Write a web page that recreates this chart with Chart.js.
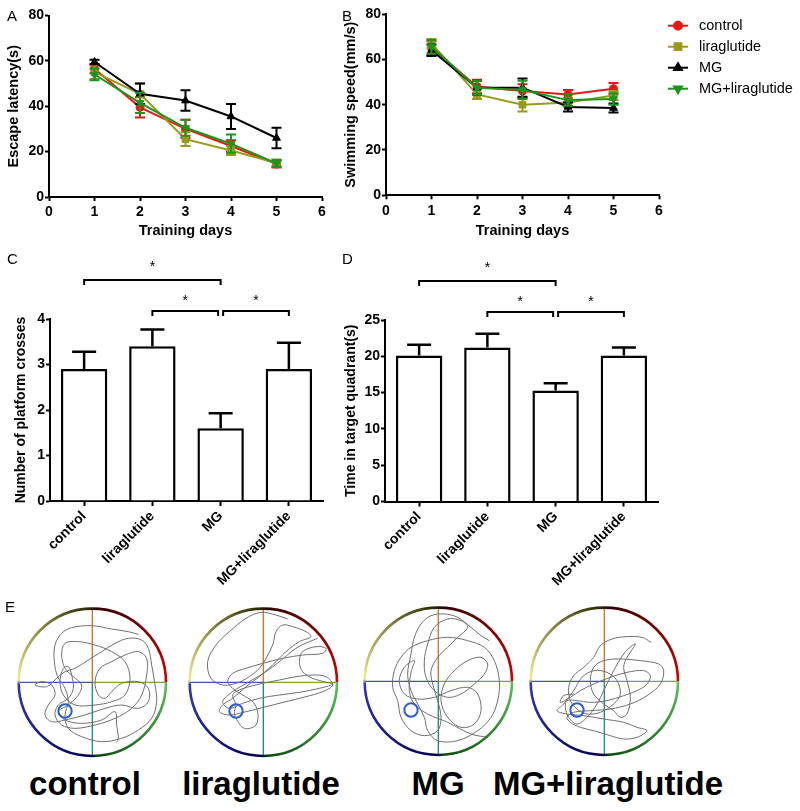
<!DOCTYPE html>
<html><head><meta charset="utf-8">
<script src="https://cdn.jsdelivr.net/npm/chart.js@4.4.1/dist/chart.umd.min.js"></script>
<style>
html,body{margin:0;padding:0;background:#fff;}
body{width:800px;height:811px;position:relative;overflow:hidden;font-family:"Liberation Sans",Arial,sans-serif;}
canvas{position:absolute;}
.lbl{position:absolute;font-size:15px;color:#000;line-height:1;}
.gl{position:absolute;font-weight:bold;font-size:33px;line-height:1;white-space:nowrap;transform:translateX(-50%);color:#000;}
</style></head><body>
<canvas id="cA" width="340" height="240" style="left:0;top:0"></canvas>
<canvas id="cB" width="460" height="240" style="left:340px;top:0"></canvas>
<canvas id="cC" width="340" height="355" style="left:0;top:240px"></canvas>
<canvas id="cD" width="460" height="355" style="left:340px;top:240px"></canvas>
<canvas id="e0" width="155" height="155" style="left:15px;top:605px"></canvas>
<canvas id="e1" width="155" height="155" style="left:186px;top:605px"></canvas>
<canvas id="e2" width="155" height="155" style="left:361px;top:604px"></canvas>
<canvas id="e3" width="155" height="155" style="left:527px;top:604px"></canvas>
<div class="lbl" style="left:7px;top:8px">A</div>
<div class="lbl" style="left:342px;top:8px">B</div>
<div class="lbl" style="left:7px;top:251px">C</div>
<div class="lbl" style="left:342px;top:251px">D</div>
<div class="lbl" style="left:5px;top:599px">E</div>
<div class="gl" style="left:85px;top:767px">control</div>
<div class="gl" style="left:261px;top:767px">liraglutide</div>
<div class="gl" style="left:438px;top:767px">MG</div>
<div class="gl" style="left:608px;top:767px">MG+liraglutide</div>
<script>
// ---------------- DATA ----------------
const days = [1, 2, 3, 4, 5];
const groups = ['control', 'liraglutide', 'MG', 'MG+liraglutide'];

const latencyControl    = [56.5, 39.5, 30.0, 22.5, 14.5];
const latencyControlErr = [2.0, 4.5, 4.0, 2.5, 1.5];
const latencyLira       = [55.0, 45.5, 25.5, 20.5, 15.0];
const latencyLiraErr    = [3.0, 4.5, 3.0, 2.0, 1.5];
const latencyMG         = [59.5, 45.5, 42.5, 35.5, 26.0];
const latencyMGErr      = [1.0, 4.5, 4.5, 5.5, 4.5];
const latencyMGL        = [54.0, 41.5, 30.5, 23.5, 14.8];
const latencyMGLErr     = [2.5, 4.5, 3.5, 4.0, 1.5];

const speedControl    = [65.0, 48.0, 46.0, 44.5, 47.0];
const speedControlErr = [3.0, 3.0, 3.0, 2.0, 2.5];
const speedLira       = [67.0, 44.5, 40.0, 41.0, 44.0];
const speedLiraErr    = [2.0, 2.0, 3.0, 2.0, 2.0];
const speedMG         = [64.0, 47.5, 47.5, 39.0, 38.5];
const speedMGErr      = [2.5, 3.0, 4.0, 2.0, 2.0];
const speedMGL        = [65.5, 47.5, 46.5, 42.0, 42.5];
const speedMGLErr     = [3.0, 3.0, 4.0, 2.5, 2.5];

const platformCrosses    = [2.9, 3.4, 1.6, 2.9];
const platformCrossesErr = [0.38, 0.37, 0.33, 0.58];
const targetTime         = [20.1, 21.2, 15.3, 20.1];
const targetTimeErr      = [1.5, 1.9, 1.0, 1.1];

const sigPairs  = [[0, 2], [1, 2], [2, 3]];
const sigLevels = [1, 0, 0];
const sigMarks  = ['*', '*', '*'];

// swim paths (arena image units, centre 232,232, radius 221)
const arenaCenter = [232, 232];
const arenaRadius = 221;
const platformPos = [150, 318];
const platformRadius = 20;
const pathControl = [[370,88],[340,80],[290,72],[230,62],[170,68],[140,85],[120,120],[118,170],[128,215],[150,250],[160,290],[150,330],[160,370],[200,395],[260,410],[320,400],[370,375],[410,340],[425,290],[420,240],[410,180],[400,130],[380,105],[340,100],[300,115],[260,140],[220,165],[180,190],[150,200],[125,220],[95,245],[60,240],[80,230],[110,240],[120,270],[100,300],[90,330],[110,350],[150,345],[210,330],[270,310],[320,300],[370,310],[400,290],[400,250],[370,230],[320,235],[290,260],[270,280],[250,270],[240,230],[255,190],[290,170],[330,150],[370,140],[395,160],[395,210],[380,270],[350,310],[300,340],[240,360],[180,370],[140,360],[120,330],[130,300],[160,280],[175,250],[170,210],[160,185],[145,190],[135,230],[145,270],[180,300],[240,300],[290,290],[330,270],[345,220],[330,170],[290,140],[240,120],[190,110],[150,115],[140,150],[150,190],[175,215],[200,240],[190,270],[160,300],[130,320],[150,345],[200,355],[260,345],[300,320],[305,360],[310,400],[305,412]];
const pathLira = [[305,42],[270,30],[225,22],[180,40],[130,80],[90,120],[65,170],[75,220],[110,240],[150,235],[190,215],[220,190],[240,160],[260,120],[270,80],[290,60],[320,65],[360,80],[375,95],[340,110],[300,140],[260,180],[220,215],[180,245],[140,280],[110,300],[100,320],[130,330],[180,320],[240,305],[300,290],[360,275],[410,260],[440,240],[420,215],[380,210],[330,215],[280,225],[230,235],[190,245],[160,255],[140,270],[150,300],[145,320],[150,340],[175,370],[210,360],[215,320],[200,290],[170,270],[140,250],[125,230],[140,205],[180,190],[230,175],[290,160],[350,150],[410,145],[420,130],[390,125],[350,140],[340,170],[350,200],[380,220],[415,230],[438,238],[400,250],[340,262],[280,270],[220,280],[170,295],[130,310],[110,290],[140,260],[190,230],[240,200],[280,170],[330,130],[370,110],[395,100]];
const pathMG = [[385,110],[360,95],[330,70],[290,40],[250,30],[210,35],[180,60],[160,100],[150,150],[140,210],[150,260],[170,300],[190,340],[200,380],[230,410],[290,410],[350,380],[390,340],[410,290],[415,230],[400,170],[370,130],[320,110],[260,100],[200,110],[150,130],[120,160],[100,200],[95,250],[110,290],[120,340],[150,380],[190,395],[230,380],[240,340],[230,290],[215,240],[210,200],[230,160],[260,130],[290,100],[320,70],[300,50],[260,45],[220,70],[200,120],[190,170],[195,220],[220,260],[260,280],[300,270],[340,240],[370,210],[380,180],[360,160],[320,170],[280,200],[250,240],[240,290],[260,340],[300,370],[340,360],[360,320],[350,270],[320,250],[270,260],[220,280],[170,285],[130,270],[115,230],[130,190],[160,170],[150,205],[145,260],[160,300],[200,330],[260,355],[330,390],[380,400]];
const pathMGL = [[372,115],[345,100],[300,98],[255,105],[220,125],[200,160],[170,190],[140,215],[125,250],[130,290],[150,315],[180,330],[220,325],[260,300],[280,270],[270,230],[240,205],[200,200],[165,220],[140,260],[110,300],[90,320],[120,330],[170,335],[230,345],[290,355],[330,370],[360,380],[330,400],[290,405],[250,395],[200,380],[160,370],[130,355],[120,340],[140,325],[190,320],[250,315],[310,300],[360,275],[400,240],[410,200],[395,180],[340,170],[280,165],[230,170],[200,190],[190,230],[200,270],[230,300],[260,320],[280,340],[300,330],[310,280],[300,230],[290,190],[300,160],[320,130],[325,120],[315,125],[290,150],[260,200],[230,260],[210,300],[180,340],[150,360],[125,340],[115,310],[120,290],[150,290],[190,295],[240,290],[290,275],[330,260],[360,240],[370,215],[350,200],[300,205],[250,220],[200,240],[160,260],[130,280],[100,295],[110,275],[140,270]];

// ---------------- STYLE ----------------
Chart.defaults.font.family = '"Liberation Sans", Arial, sans-serif';
Chart.defaults.color = '#000';
const C_RED = '#f01515', C_OLIVE = '#9a9a1a', C_BLACK = '#000000', C_GREEN = '#1d951d';
const seriesStyle = [
  {label:'control', color:C_RED, pointStyle:'circle', rotation:0, radius:4},
  {label:'liraglutide', color:C_OLIVE, pointStyle:'rect', rotation:0, radius:4.8},
  {label:'MG', color:C_BLACK, pointStyle:'triangle', rotation:0, radius:4.5},
  {label:'MG+liraglutide', color:C_GREEN, pointStyle:'triangle', rotation:180, radius:4.5}
];

const lineErrPlugin = {
  id: 'lineErr',
  afterDatasetDraw(chart, args) {
    const ds = chart.data.datasets[args.index];
    if (!ds.errors) return;
    const ctx = chart.ctx, xs = chart.scales.x, ys = chart.scales.y;
    ctx.save();
    ctx.strokeStyle = ds.borderColor; ctx.lineWidth = 2;
    ds.data.forEach((p, i) => {
      const e = ds.errors[i];
      const x = xs.getPixelForValue(p.x);
      const y1 = ys.getPixelForValue(p.y + e), y2 = ys.getPixelForValue(p.y - e);
      ctx.beginPath();
      ctx.moveTo(x, y1); ctx.lineTo(x, y2);
      ctx.moveTo(x - 5, y1); ctx.lineTo(x + 5, y1);
      ctx.moveTo(x - 5, y2); ctx.lineTo(x + 5, y2);
      ctx.stroke();
    });
    ctx.restore();
  }
};

const legendPlugin = {
  id: 'glegend',
  afterDraw(chart, args, opts) {
    if (!opts || !opts.show) return;
    const ctx = chart.ctx;
    chart.data.datasets.forEach((ds, i) => {
      const y = opts.y0 + i * opts.dy;
      ctx.save();
      ctx.strokeStyle = ds.borderColor; ctx.fillStyle = ds.borderColor; ctx.lineWidth = 2;
      ctx.beginPath(); ctx.moveTo(opts.x0, y); ctx.lineTo(opts.x0 + 20, y); ctx.stroke();
      Chart.helpers.drawPoint(ctx, {pointStyle: ds.pointStyle, rotation: ds.pointRotation || 0, radius: ds.pointRadius, borderWidth: 1}, opts.x0 + 10, y);
      ctx.fillStyle = '#000';
      ctx.font = '14.5px "Liberation Sans", Arial, sans-serif';
      ctx.textBaseline = 'middle'; ctx.textAlign = 'left';
      ctx.fillText(ds.label, opts.x0 + 31, y);
      ctx.restore();
    });
  }
};

function lineChart(id, series, errs, yTitle, geo, showLegend) {
  const datasets = series.map((arr, k) => ({
    label: seriesStyle[k].label,
    data: days.map((d, i) => ({x: d, y: arr[i]})),
    errors: errs[k],
    borderColor: seriesStyle[k].color,
    backgroundColor: seriesStyle[k].color,
    borderWidth: 2,
    pointStyle: seriesStyle[k].pointStyle,
    pointRotation: seriesStyle[k].rotation,
    pointRadius: seriesStyle[k].radius,
    pointBorderWidth: 1,
    tension: 0,
    order: 4 - k
  }));
  return new Chart(document.getElementById(id), {
    type: 'line',
    data: {datasets},
    plugins: [lineErrPlugin, legendPlugin],
    options: {
      responsive: false, animation: false, devicePixelRatio: 1,
      layout: {padding: {left: 0, top: geo.top, right: geo.right, bottom: 0}},
      plugins: {legend: {display: false}, tooltip: {enabled: false},
        glegend: {show: showLegend, x0: 328, y0: 25.7, dy: 21}},
      scales: {
        x: {type: 'linear', min: 0, max: 6,
          ticks: {stepSize: 1, font: {size: 14, weight: 'bold'}, padding: 3},
          grid: {drawOnChartArea: false, drawTicks: true, tickLength: 4, tickWidth: 2, color: '#000'},
          border: {display: true, color: '#000', width: 2},
          title: {display: true, text: 'Training days', font: {size: 14.5, weight: 'bold'}, padding: 0},
          afterFit(s) { s.height = geo.xh; }},
        y: {type: 'linear', min: 0, max: 80,
          ticks: {stepSize: 20, font: {size: 14, weight: 'bold'}, padding: 1},
          grid: {drawOnChartArea: false, drawTicks: true, tickLength: 4, tickWidth: 2, color: '#000'},
          border: {display: true, color: '#000', width: 2},
          title: {display: true, text: yTitle, font: {size: 14.5, weight: 'bold'}, padding: {top: geo.tpad, bottom: 0}},
          afterFit(s) { s.width = geo.yw; }}
      }
    }
  });
}

lineChart('cA', [latencyControl, latencyLira, latencyMG, latencyMGL],
  [latencyControlErr, latencyLiraErr, latencyMGErr, latencyMGLErr],
  'Escape latency(s)', {top: 15.5, right: 18, xh: 43, yw: 49, tpad: 5}, false);
lineChart('cB', [speedControl, speedLira, speedMG, speedMGL],
  [speedControlErr, speedLiraErr, speedMGErr, speedMGLErr],
  'Swimming speed(mm/s)', {top: 14, right: 141, xh: 44.7, yw: 46, tpad: 2.5}, true);

const barExtras = {
  id: 'barExtras',
  afterDatasetsDraw(chart) {
    const ctx = chart.ctx, ys = chart.scales.y;
    const ds = chart.data.datasets[0], meta = chart.getDatasetMeta(0);
    ctx.save();
    ctx.strokeStyle = '#000'; ctx.fillStyle = '#000'; ctx.lineWidth = 2.5;
    meta.data.forEach((bar, i) => {
      const x = bar.x;
      const yt = ys.getPixelForValue(ds.data[i]);
      const ye = ys.getPixelForValue(ds.data[i] + ds.errors[i]);
      ctx.beginPath();
      ctx.moveTo(x, yt); ctx.lineTo(x, ye);
      ctx.moveTo(x - 12, ye); ctx.lineTo(x + 12, ye);
      ctx.stroke();
    });
    // significance brackets
    const top = chart.chartArea.top;
    ctx.lineWidth = 2;
    sigPairs.forEach((pr, k) => {
      const lvl = sigLevels[k];
      const y = top - (lvl === 0 ? 8 : 39);
      let xa = meta.data[pr[0]].x, xb = meta.data[pr[1]].x;
      sigPairs.forEach((q, j) => {
        if (j === k || sigLevels[j] !== lvl) return;
        if (q.includes(pr[0])) xa += 2.5;
        if (q.includes(pr[1])) xb -= 2.5;
      });
      ctx.beginPath();
      ctx.moveTo(xa, y + 5); ctx.lineTo(xa, y); ctx.lineTo(xb, y); ctx.lineTo(xb, y + 5);
      ctx.stroke();
      ctx.font = '14px "Liberation Sans", Arial, sans-serif';
      ctx.textAlign = 'center'; ctx.textBaseline = 'middle';
      ctx.fillText(sigMarks[k], (xa + xb) / 2, y - (lvl === 0 ? 9.5 : 12.5));
    });
    ctx.restore();
  }
};

function barChart(id, values, errs, yMax, yStep, yTitle, geo) {
  return new Chart(document.getElementById(id), {
    type: 'bar',
    data: {labels: groups, datasets: [{data: values, errors: errs,
      backgroundColor: '#fff', borderColor: '#000', borderWidth: 2.5,
      barPercentage: 0.68, categoryPercentage: 1}]},
    plugins: [barExtras],
    options: {
      responsive: false, animation: false, devicePixelRatio: 1,
      layout: {padding: {left: 0, top: geo.top, right: geo.right, bottom: 0}},
      plugins: {legend: {display: false}, tooltip: {enabled: false}},
      scales: {
        x: {ticks: {maxRotation: 45, minRotation: 45, autoSkip: false, font: {size: 14, weight: 'bold'}, padding: 2},
          grid: {offset: false, drawOnChartArea: false, drawTicks: true, tickLength: 5, tickWidth: 2, color: '#000'},
          border: {display: true, color: '#000', width: 2},
          afterFit(s) { s.height = geo.xh; }},
        y: {min: 0, max: yMax,
          ticks: {stepSize: yStep, font: {size: 14, weight: 'bold'}, padding: 1},
          grid: {drawOnChartArea: false, drawTicks: true, tickLength: 4, tickWidth: 2, color: '#000'},
          border: {display: true, color: '#000', width: 2},
          title: {display: true, text: yTitle, font: {size: 14, weight: 'bold'}, padding: {top: geo.tpad, bottom: 0}},
          afterFit(s) { s.width = geo.yw; }}
      }
    }
  });
}

barChart('cC', platformCrosses, platformCrossesErr, 4, 1, 'Number of platform crosses',
  {top: 79, right: 17, xh: 94, yw: 50, tpad: 13});
barChart('cD', targetTime, targetTimeErr, 25, 5, 'Time in target quadrant(s)',
  {top: 80, right: 142, xh: 93.5, yw: 45, tpad: 2.5});

// ---------------- PANEL E ----------------
const arenaPlugin = {
  id: 'arena',
  beforeDatasetsDraw(chart) {
    const ctx = chart.ctx, xs = chart.scales.x, ys = chart.scales.y;
    const cx = xs.getPixelForValue(arenaCenter[0]), cy = ys.getPixelForValue(arenaCenter[1]);
    const r = xs.getPixelForValue(arenaCenter[0] + arenaRadius) - cx;
    ctx.save();
    ctx.lineWidth = 1.4;
    const seg = (x1, y1, x2, y2, c) => { ctx.strokeStyle = c; ctx.beginPath(); ctx.moveTo(x1, y1); ctx.lineTo(x2, y2); ctx.stroke(); };
    seg(cx, cy, cx, cy - r, '#cc7733');
    seg(cx, cy, cx + r, cy, '#7fa23a');
    seg(cx, cy, cx - r, cy, '#4455a5');
    seg(cx, cy, cx, cy + r, '#2a8a7a');
    ctx.restore();
  },
  afterDatasetsDraw(chart) {
    const ctx = chart.ctx, xs = chart.scales.x, ys = chart.scales.y;
    const cx = xs.getPixelForValue(arenaCenter[0]), cy = ys.getPixelForValue(arenaCenter[1]);
    const r = xs.getPixelForValue(arenaCenter[0] + arenaRadius) - cx;
    ctx.save();
    const g = ctx.createConicGradient(0, cx, cy);
    g.addColorStop(0, '#5cc05c');
    g.addColorStop(0.24, '#0a4a0a');
    g.addColorStop(0.255, '#000050');
    g.addColorStop(0.495, '#3535b5');
    g.addColorStop(0.505, '#eeee90');
    g.addColorStop(0.74, '#2a2a00');
    g.addColorStop(0.76, '#300000');
    g.addColorStop(0.995, '#d00000');
    g.addColorStop(1, '#d00000');
    ctx.strokeStyle = g; ctx.lineWidth = 2.6;
    ctx.beginPath(); ctx.arc(cx, cy, r, 0, Math.PI * 2); ctx.stroke();
    const px = xs.getPixelForValue(platformPos[0]), py = ys.getPixelForValue(platformPos[1]);
    const pr = xs.getPixelForValue(platformPos[0] + platformRadius) - px;
    ctx.strokeStyle = '#2a5fd0'; ctx.lineWidth = 2;
    ctx.beginPath(); ctx.arc(px, py, pr, 0, Math.PI * 2); ctx.stroke();
    ctx.restore();
  }
};

function arenaChart(id, path) {
  return new Chart(document.getElementById(id), {
    type: 'scatter',
    data: {datasets: [{data: path.map(p => ({x: p[0], y: p[1]})), showLine: true,
      borderColor: '#707070', borderWidth: 1, pointRadius: 0, tension: 0.35, clip: false}]},
    plugins: [arenaPlugin],
    options: {
      responsive: false, animation: false, devicePixelRatio: 1,
      layout: {padding: 0},
      plugins: {legend: {display: false}, tooltip: {enabled: false}},
      scales: {
        x: {display: false, min: 0, max: 465},
        y: {display: false, min: 0, max: 465, reverse: true}
      }
    }
  });
}
arenaChart('e0', pathControl);
arenaChart('e1', pathLira);
arenaChart('e2', pathMG);
arenaChart('e3', pathMGL);
</script>
</body></html>
